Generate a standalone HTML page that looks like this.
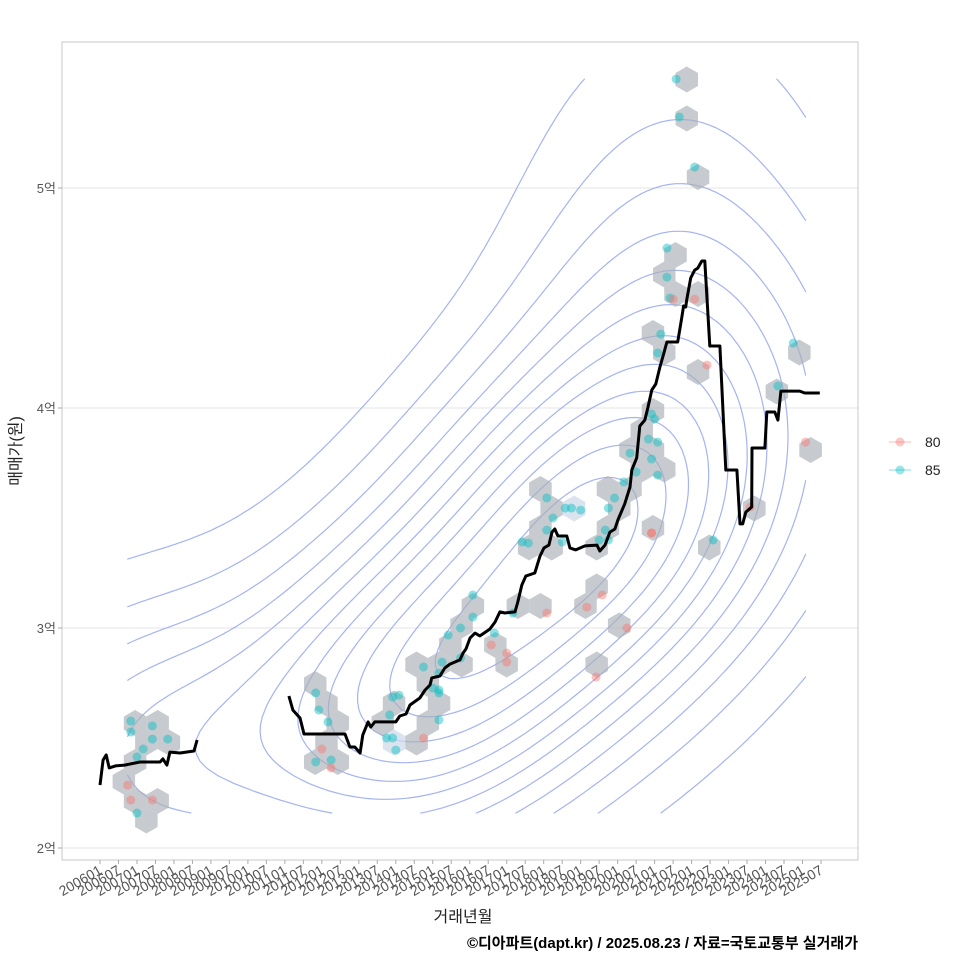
<!DOCTYPE html>
<html><head><meta charset="utf-8">
<style>
html,body{margin:0;padding:0;background:#fff;}
svg{display:block;font-family:"Liberation Sans","Noto Sans CJK KR",sans-serif;}
</style></head>
<body>
<svg id="chart" width="960" height="960" viewBox="0 0 960 960" xmlns="http://www.w3.org/2000/svg">
<rect x="0" y="0" width="960" height="960" fill="#fff"/>
<g id="grid"></g>
<g id="contours"></g>
<g id="hexes"></g>
<g id="points"></g>
<g id="line"></g>
<rect x="62" y="42" width="796" height="818" fill="none" stroke="#c8c8c8" stroke-width="1"/>
<g id="yaxis"></g>
<g id="xaxis"></g>
<text x="21" y="451" transform="rotate(-90 21 451)" text-anchor="middle" font-size="16" fill="#222">매매가(원)</text>
<text x="463" y="922" text-anchor="middle" font-size="16" fill="#222">거래년월</text>
<text x="858" y="948" text-anchor="end" font-size="15" font-weight="bold" fill="#000">©디아파트(dapt.kr) / 2025.08.23 / 자료=국토교통부 실거래가</text>
<g>
  <g>
    <line x1="889" y1="442" x2="911" y2="442" stroke="#F8766D" stroke-opacity="0.4" stroke-width="1.2"/>
    <circle cx="900" cy="442" r="4.5" fill="#F8766D" fill-opacity="0.4"/>
    <text x="925" y="447" font-size="14" fill="#222">80</text>
  </g>
  <g>
    <line x1="889" y1="470" x2="911" y2="470" stroke="#00BFC4" stroke-opacity="0.4" stroke-width="1.2"/>
    <circle cx="900" cy="470" r="4.5" fill="#00BFC4" fill-opacity="0.4"/>
    <text x="925" y="475" font-size="14" fill="#222">85</text>
  </g>
</g>
</svg>
<script>
// month index from 2006-01, price in 만원
const pointMonths = [10,10,17,17,22,14,12,9,10,17,12,
 70,71,74,75,70,72,75,
 93,95,96,95,97,94,105,110,108,110,110,105,111,110,117,113,117,121,121,128,134,127,132,132,145,158,163,171,161,
 137,139,145,147,145,150,151,153,156,162,165,164,165,167,170,179,
 187,188,193,184,184,185,182,181,225,220,179,180,178,181,172,179,181,174,199,186,193,197,229,211,179];
const pointPrices = [25770,25270,25550,24950,24950,24500,24140,22860,22180,22180,21590,
 27050,26270,25730,24000,23910,24500,23640,
 25000,25000,24450,26860,26950,26050,25000,25820,27270,27180,27050,28230,28450,27950,28640,29680,30000,30500,31500,29770,30680,29230,28860,28450,30680,30950,31500,30000,27770,
 33910,33860,35910,35000,34450,33910,35450,35450,35360,34000,34000,34450,35450,35910,36640,34320,
 54950,53230,50950,47270,45950,45000,43360,42500,42950,41000,39730,39500,38590,38450,37950,37680,36950,37090,34000,44950,44950,41950,38450,35500,34320];
const pointTypes = [85,85,85,85,85,85,85,80,80,80,85,
 85,85,85,85,85,80,80,
 85,85,85,85,85,85,80,85,85,85,85,85,85,85,85,85,85,85,85,85,85,80,80,80,80,80,80,80,80,
 85,85,85,85,85,85,85,85,85,85,85,85,85,85,85,80,
 85,85,85,85,85,85,85,85,85,85,85,85,85,85,85,85,85,85,85,80,80,80,80,80,80];

const line1Months = [0,1,2,3,5,8,13,19.5,20.4,21.7,22.7,26,30.5,31.5];
const line1Prices = [22860,24000,24230,23640,23730,23770,23910,23910,24050,23770,24360,24320,24410,24910];
const line2Months = [61.3,62.6,64.9,66.2,79.5,81.1,82.7,84.4,85.3,87,87.9,89.2,96,97.3,99.3,100.6,103.8,105.5,107.1,107.7,110.3,111.9,113.6,116.8,117.8,118.8,120.1,121.7,123.3,126.5,128.2,129.8,131.4,134.7,135.6,136.9,138.2,141.1,142.8,144.1,145.7,146.7,147.6,148.6,151.5,152.5,154.4,157.4,161.3,162.2,163.9,165.5,167.1,168.1,170.3,172,172.6,174.2,175.2,176.8,177.8,179.1,180.4,181.7,183,184,187.5,188.8,189.4,190.1,190.4,191.7,193,194,195.3,196.3,197.9,201.2,203.1,206.7,207.7,208.6,209.6,211.5,211.6,215.8,216.4,219,220,221,227.1,228.7,233.6];
const line2Prices = [26910,26270,25910,25180,25180,24590,24590,24320,25140,25730,25500,25730,25730,26000,26090,26500,26820,27180,27410,27730,27820,28180,28360,28550,28860,29050,29550,29770,29640,29950,30270,30730,30680,30730,31180,31950,32360,32500,33270,33640,33770,34360,34500,34180,34180,33640,33550,33730,33770,33500,33770,34360,34500,34910,35640,36410,37180,37730,39180,39450,40000,40820,41090,41860,42500,43000,43000,44090,44640,44590,44910,45910,46270,46360,46680,46680,42820,42820,37180,37180,34730,34730,35270,35500,38180,38180,39820,39820,39450,40770,40770,40680,40680];

const yTickValues = [20000,30000,40000,50000];
const yTickLabels = ["2억","3억","4억","5억"];
const xTickLabels = [];
for (let y=2006;y<=2025;y++){ xTickLabels.push(y+"01"); xTickLabels.push(y+"07"); }

const NS="http://www.w3.org/2000/svg";
const X0=100, XPM=721/234; // px per month
const xs = m => X0 + m*XPM;
const ys = v => 848 - (v-20000)*0.022;
function mk(tag, attrs, parent){ const e=document.createElementNS(NS,tag); for(const k in attrs) e.setAttribute(k,attrs[k]); parent.appendChild(e); return e; }

const grid=document.getElementById('grid'), yax=document.getElementById('yaxis');
yTickValues.forEach((v,i)=>{
  const g=mk('line',{x1:62,x2:858,y1:ys(v),y2:ys(v),stroke:'#e6e6e6','stroke-width':1},grid);
  
  
  const t=mk('text',{x:56,y:ys(v)+5,'text-anchor':'end','font-size':13,fill:'#555'},yax);
  t.textContent=yTickLabels[i];
  
  
  const tk=mk('line',{x1:58,x2:62,y1:ys(v),y2:ys(v),stroke:'#aaa'},yax);
  
  
});
const xax=document.getElementById('xaxis');
xTickLabels.forEach((lab,i)=>{
  const x=xs(i*6);
  const tk=mk('line',{x1:x,x2:x,y1:860,y2:864,stroke:'#aaa'},xax);
  
  
  const t=mk('text',{x:x+3,y:873,'text-anchor':'end','font-size':14,fill:'#555',transform:`rotate(-30 ${x+3} 873)`},xax);
  t.textContent=lab;
  
  
});

// KDE contours computed from points
(function(){
  const n=pointMonths.length;
  const px=pointMonths.map(xs), py=pointPrices.map(ys);
  function sd(a){const m=a.reduce((s,v)=>s+v,0)/a.length;return Math.sqrt(a.reduce((s,v)=>s+(v-m)*(v-m),0)/(a.length-1));}
  function iqr(a){const b=[...a].sort((p,q)=>p-q);const q=t=>{const i=(b.length-1)*t,l=Math.floor(i);return b[l]+(b[Math.min(l+1,b.length-1)]-b[l])*(i-l);};return q(.75)-q(.25);}
  const fac=1.06*Math.pow(n,-0.2);
  const hx=fac*Math.min(sd(px),iqr(px)/1.34)*1.35, hy=fac*Math.min(sd(py),iqr(py)/1.34)*1.45;
  const xmin=Math.min(...px),xmax=Math.max(...px),ymin=Math.min(...py),ymax=Math.max(...py);
  const N=100;
  const gx=[],gy=[];for(let i=0;i<N;i++){gx.push(xmin+(xmax-xmin)*i/(N-1));gy.push(ymin+(ymax-ymin)*i/(N-1));}
  const Z=[];let zmax=0;
  for(let j=0;j<N;j++){Z.push([]);for(let i=0;i<N;i++){let s=0;for(let k=0;k<n;k++){const dx=(gx[i]-px[k])/hx,dy=(gy[j]-py[k])/hy;s+=Math.exp(-0.5*(dx*dx+dy*dy));}Z[j].push(s);if(s>zmax)zmax=s;}}
  const cg=document.getElementById('contours');
  const L=13;
  for(let l=1;l<L;l++){
    const lev=zmax*l/L;let d='';
    for(let j=0;j<N-1;j++)for(let i=0;i<N-1;i++){
      const a=Z[j][i],b=Z[j][i+1],c=Z[j+1][i+1],e=Z[j+1][i];
      const pts=[];
      const ip=(x1,y1,v1,x2,y2,v2)=>{const t=(lev-v1)/(v2-v1);return [x1+(x2-x1)*t,y1+(y2-y1)*t];};
      if((a>=lev)!=(b>=lev))pts.push(ip(gx[i],gy[j],a,gx[i+1],gy[j],b));
      if((b>=lev)!=(c>=lev))pts.push(ip(gx[i+1],gy[j],b,gx[i+1],gy[j+1],c));
      if((c>=lev)!=(e>=lev))pts.push(ip(gx[i+1],gy[j+1],c,gx[i],gy[j+1],e));
      if((e>=lev)!=(a>=lev))pts.push(ip(gx[i],gy[j+1],e,gx[i],gy[j],a));
      for(let k=0;k+1<pts.length;k+=2)d+=`M${pts[k][0].toFixed(1)},${pts[k][1].toFixed(1)}L${pts[k+1][0].toFixed(1)},${pts[k+1][1].toFixed(1)}`;
    }
    const p=mk('path',{d:d,fill:'none',stroke:'#8fa0ee','stroke-opacity':0.8,'stroke-width':1.2,'stroke-linecap':'round'},cg);
    
    
  }
})();

// hexbin
(function(){
  const R=13, W=Math.sqrt(3)*R, H=1.5*R;
  const bins={};
  pointMonths.forEach((m,k)=>{
    const x=xs(m),y=ys(pointPrices[k]);
    let best=null,bd=1e9;
    const r0=Math.round((y-60)/H);
    for(let r=r0-1;r<=r0+1;r++){
      const off=(r%2)?W/2:0;const c=Math.round((x-off)/W);
      for(let cc=c-1;cc<=c+1;cc++){const cx=cc*W+off,cy=60+r*H;const dd=(cx-x)**2+(cy-y)**2;if(dd<bd){bd=dd;best=[cx,cy];}}
    }
    const key=best[0].toFixed(1)+','+best[1].toFixed(1);
    bins[key]=bins[key]||{c:best,n:0};bins[key].n++;
  });
  const hg=document.getElementById('hexes');
  Object.values(bins).forEach(b=>{
    let pts=[];for(let a=0;a<6;a++){const t=Math.PI/180*(60*a-90);pts.push((b.c[0]+R*Math.cos(t)).toFixed(1)+','+(b.c[1]+R*Math.sin(t)).toFixed(1));}
    const fill=b.n>=3?'#cfdbe8':'#a9afb6';
    const h=mk('polygon',{points:pts.join(' '),fill:fill,'fill-opacity':b.n>=3?0.75:0.65},hg);
    
    
  });
})();

const pg=document.getElementById('points');
pointMonths.forEach((m,k)=>{
  const c=mk('circle',{cx:xs(m),cy:ys(pointPrices[k]),r:4.5,fill:pointTypes[k]===80?'#F8766D':'#00BFC4','fill-opacity':0.45},pg);
  
  
});

const lg=document.getElementById('line');
[[line1Months,line1Prices],[line2Months,line2Prices]].forEach(([ms,ps])=>{
  const d=ms.map((m,i)=>(i?'L':'M')+xs(m).toFixed(1)+','+ys(ps[i]).toFixed(1)).join('');
  const p=mk('path',{d:d,fill:'none',stroke:'#000','stroke-width':3,'stroke-linejoin':'round'},lg);
  
  
});
</script>
</body></html>
